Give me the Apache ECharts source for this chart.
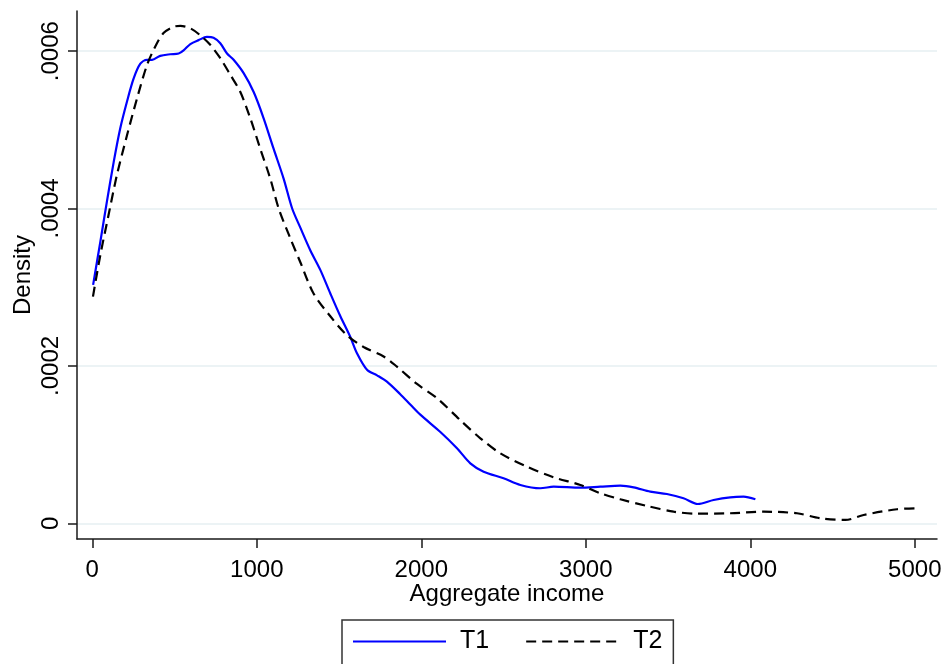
<!DOCTYPE html>
<html>
<head>
<meta charset="utf-8">
<script src="https://cdn.jsdelivr.net/npm/echarts@6/dist/echarts.min.js"></script>
<style>html,body{margin:0;padding:0;background:#fff}#c{width:946px;height:664px}</style>
</head>
<body>
<div id="c"></div>
<script>
const xTicks = [0, 1000, 2000, 3000, 4000, 5000];
const yTicks = [0, 0.0002, 0.0004, 0.0006];

const t1X = [5, 49, 89, 130, 170, 211, 251, 292, 332, 363, 413, 474, 525, 555, 596, 646, 697, 737, 778, 819, 859, 920, 981, 1041, 1102, 1163, 1215, 1264, 1325, 1386, 1447, 1508, 1568, 1609, 1670, 1731, 1791, 1872, 1933, 1994, 2116, 2217, 2298, 2379, 2500, 2602, 2723, 2805, 2967, 3088, 3210, 3291, 3392, 3493, 3594, 3681, 3777, 3878, 3959, 4031];
const t1Y = [0.000303, 0.000358, 0.000409, 0.000459, 0.000502, 0.000536, 0.000565, 0.000584, 0.000589, 0.000589, 0.000594, 0.000596, 0.000597, 0.000601, 0.000609, 0.000614, 0.000618, 0.000617, 0.000610, 0.000597, 0.000589, 0.000572, 0.000548, 0.000515, 0.000476, 0.000438, 0.000400, 0.000376, 0.000347, 0.000322, 0.000292, 0.000263, 0.000237, 0.000216, 0.000195, 0.000188, 0.000180, 0.000164, 0.000151, 0.000138, 0.000116, 0.0000953, 0.0000762, 0.0000656, 0.0000572, 0.0000487, 0.0000445, 0.0000465, 0.0000452, 0.0000465, 0.0000478, 0.0000457, 0.0000402, 0.0000372, 0.0000318, 0.0000245, 0.0000296, 0.0000330, 0.0000338, 0.0000305];

const t2X = [4, 49, 99, 150, 211, 272, 332, 383, 433, 494, 535, 596, 657, 717, 778, 839, 900, 960, 1021, 1082, 1133, 1204, 1264, 1345, 1447, 1548, 1649, 1771, 1852, 1974, 2095, 2237, 2359, 2480, 2642, 2805, 2967, 3088, 3210, 3372, 3534, 3676, 3878, 4081, 4284, 4426, 4578, 4689, 4892, 5030];
const t2Y = [0.000288, 0.000341, 0.000392, 0.000443, 0.000493, 0.000540, 0.000582, 0.000606, 0.000623, 0.000631, 0.000632, 0.000629, 0.000620, 0.000608, 0.000591, 0.000570, 0.000548, 0.000515, 0.000476, 0.000438, 0.000400, 0.000362, 0.000332, 0.000292, 0.000263, 0.000239, 0.000224, 0.000212, 0.000199, 0.000177, 0.000159, 0.000131, 0.000108, 0.0000889, 0.0000719, 0.0000584, 0.0000487, 0.0000381, 0.0000305, 0.0000220, 0.0000147, 0.0000122, 0.0000127, 0.0000147, 0.0000127, 0.0000064, 0.0000042, 0.0000105, 0.0000178, 0.0000191];

const seriesNames = ['T1', 'T2'];
const xTitle = 'Aggregate income';
const yTitle = 'Density';

const pair = (xs, ys) => xs.map((x, i) => [x, ys[i]]);
const FONT = "'Liberation Sans', Arial, sans-serif";
const AX = '#1a1a1a';

const chart = echarts.init(document.getElementById('c'), null, {renderer: 'canvas'});
chart.setOption({
  animation: false,
  backgroundColor: '#fff',
  grid: {left: 77, right: 9, top: 11, bottom: 125, containLabel: false},
  xAxis: {
    type: 'value', min: -93, max: 5135,
    name: xTitle, nameLocation: 'middle', nameGap: 43, nameMoveOverlap: false,
    nameTextStyle: {fontFamily: FONT, fontSize: 24, color: '#000'},
    axisLine: {show: true, onZero: false, lineStyle: {color: AX, width: 1.5}},
    axisTick: {show: true, length: 9, inside: false, customValues: xTicks, lineStyle: {color: AX, width: 1.5}},
    axisLabel: {customValues: xTicks, margin: 19, fontFamily: FONT, fontSize: 24, color: '#000',
      formatter: v => String(v)},
    splitLine: {show: false}
  },
  yAxis: {
    type: 'value', min: -0.00002, max: 0.000651,
    name: yTitle, nameLocation: 'middle', nameGap: 42, nameRotate: 90, nameMoveOverlap: false,
    nameTextStyle: {fontFamily: FONT, fontSize: 24, color: '#000'},
    axisLine: {show: true, onZero: false, lineStyle: {color: AX, width: 1.5}},
    axisTick: {show: true, length: 9, customValues: yTicks, lineStyle: {color: AX, width: 1.5}},
    axisLabel: {customValues: yTicks, rotate: 90, margin: 14, fontFamily: FONT, fontSize: 24, color: '#000',
      formatter: v => v === 0 ? '0' : v.toFixed(4).replace(/^0/, '')},
    splitLine: {show: true, lineStyle: {color: '#e6eff2', width: 1.5}}
  },
  legend: {
    data: seriesNames,
    left: 342, top: 620,
    orient: 'horizontal',
    borderColor: '#333', borderWidth: 1.5, borderRadius: 0,
    padding: [9, 11, 30, 10],
    itemWidth: 93, itemHeight: 14, itemGap: 36,
    itemStyle: {opacity: 0},
    lineStyle: {width: 2},
    textStyle: {fontFamily: FONT, fontSize: 25, color: '#000', padding: [0, 0, 0, 9]}
  },
  series: [
    {name: seriesNames[0], type: 'line', data: pair(t1X, t1Y), symbol: 'none', smooth: 0.3,
     lineStyle: {color: '#0000ff', width: 2.2}, itemStyle: {color: '#0000ff'}},
    {name: seriesNames[1], type: 'line', data: pair(t2X, t2Y), symbol: 'none', smooth: 0.3,
     lineStyle: {color: '#000', width: 2.2, type: [10, 6]}, itemStyle: {color: '#000'}}
  ]
});
</script>
</body>
</html>
